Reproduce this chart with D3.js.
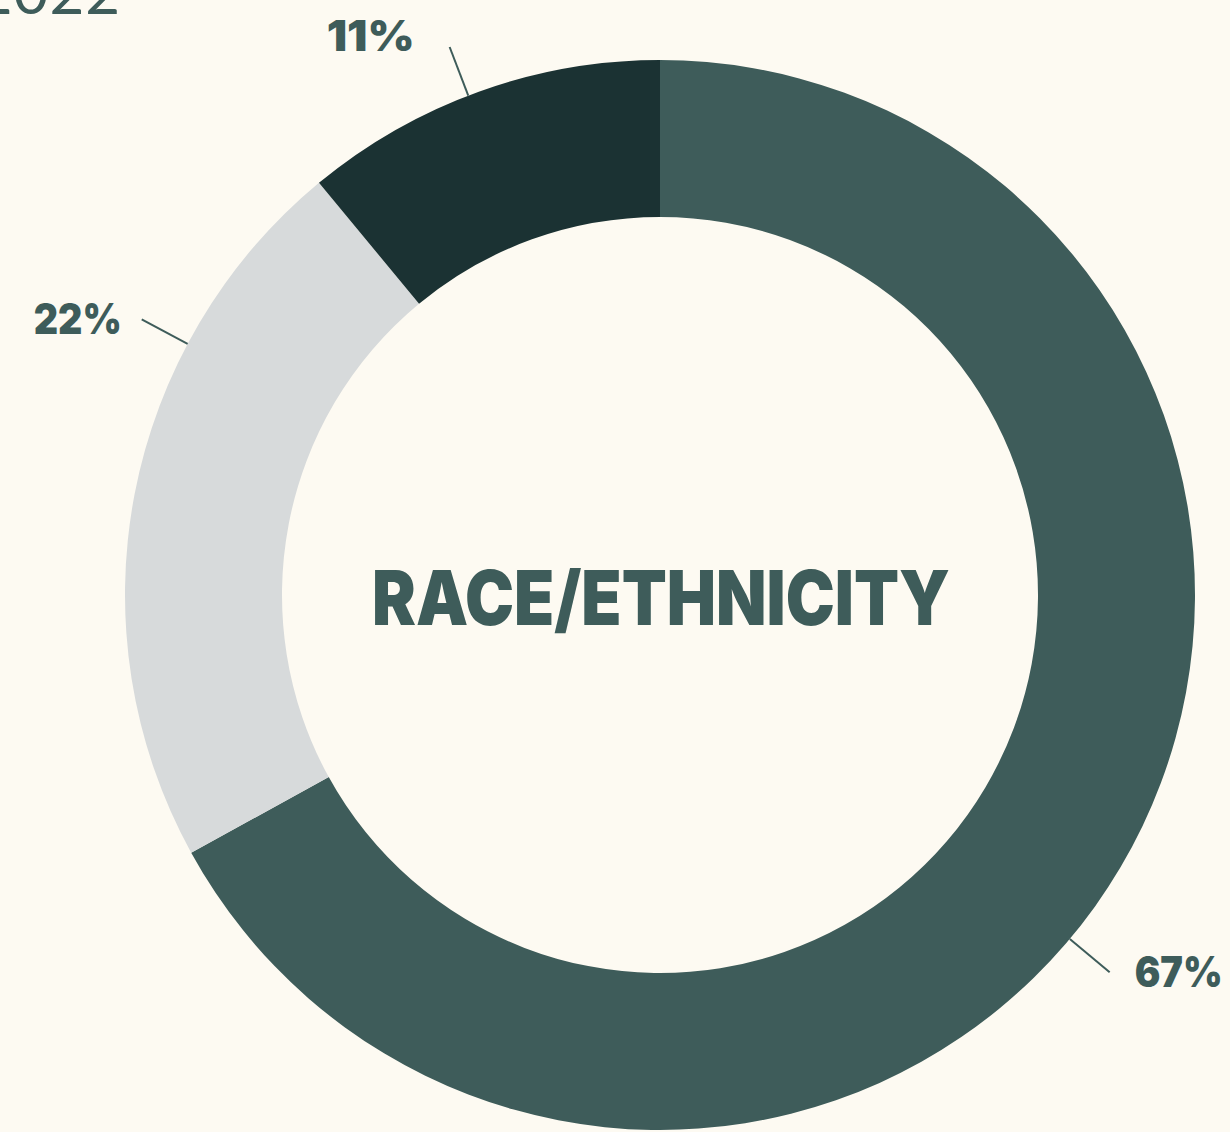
<!DOCTYPE html>
<html lang="en">
<head>
<meta charset="utf-8">
<title>Race/Ethnicity</title>
<style>
  html, body { margin: 0; padding: 0; background: #fdfaf2; }
  svg { display: block; }
  .lbl { font-family: Inter, Roboto, "DejaVu Sans", sans-serif; font-weight: 900; fill: #3e5c5a; }
</style>
</head>
<body>
<svg id="chart" width="1230" height="1132"></svg>
<script src="https://d3js.org/d3.v7.min.js"></script>
<script>

var categories = ["Group A", "Group B", "Group C"];
var values = [67, 22, 11];
var labels = ["67%", "22%", "11%"];
var colors = ["#3e5c5a", "#d7dadb", "#1b3233"];
var title = "RACE/ETHNICITY";
var year = "2022";

// leader line angle (degrees clockwise from 12 o'clock) and text nudges
var labelAngle = [130, 298, 339];
var labelGap = [25, 20, 35];
var labelDy = [15, 15, 4];

var width = 1230, height = 1132;
var cx = 660, cy = 595;
var outerR = 535, innerR = 378;

var svg = d3.select("#chart");

svg.append("text")
    .attr("x", 121).attr("y", 14)
    .attr("text-anchor", "end")
    .attr("font-family", "Lato, 'DejaVu Sans', sans-serif")
    .attr("font-weight", 400)
    .attr("font-size", 60)
    .attr("letter-spacing", 1)
    .attr("fill", "#3e5c5a")
    .text(year);

var g = svg.append("g").attr("transform", "translate(" + cx + "," + cy + ")");

var pie = d3.pie().sort(null).value(function(d) { return d; });
var arc = d3.arc().innerRadius(innerR).outerRadius(outerR);
var arcs = pie(values);

g.selectAll("path.slice")
  .data(arcs)
  .enter().append("path")
    .attr("class", "slice")
    .attr("d", arc)
    .attr("fill", function(d, i) { return colors[i]; });

function polar(a, r) {
  var rad = a * Math.PI / 180;
  return [r * Math.sin(rad), -r * Math.cos(rad)];
}

arcs.forEach(function(d, i) {
  var p0 = polar(labelAngle[i], outerR);
  var p1 = polar(labelAngle[i], outerR + 52);
  g.append("line")
    .attr("x1", p0[0]).attr("y1", p0[1])
    .attr("x2", p1[0]).attr("y2", p1[1])
    .attr("stroke", "#3e5c5a")
    .attr("stroke-width", 2);
  var right = p1[0] > 0;
  g.append("text")
    .attr("class", "lbl")
    .attr("x", p1[0] + (right ? labelGap[i] : -labelGap[i]))
    .attr("y", p1[1] + labelDy[i])
    .attr("text-anchor", right ? "start" : "end")
    .attr("font-size", 42)
    .attr("textLength", 88)
    .attr("lengthAdjust", "spacingAndGlyphs")
    .text(labels[i]);
});

g.append("text")
  .attr("class", "lbl")
  .attr("x", 1).attr("y", 30)
  .attr("text-anchor", "middle")
  .attr("font-size", 75)
  .attr("textLength", 578)
  .attr("lengthAdjust", "spacingAndGlyphs")
  .text(title);

</script>
</body>
</html>
